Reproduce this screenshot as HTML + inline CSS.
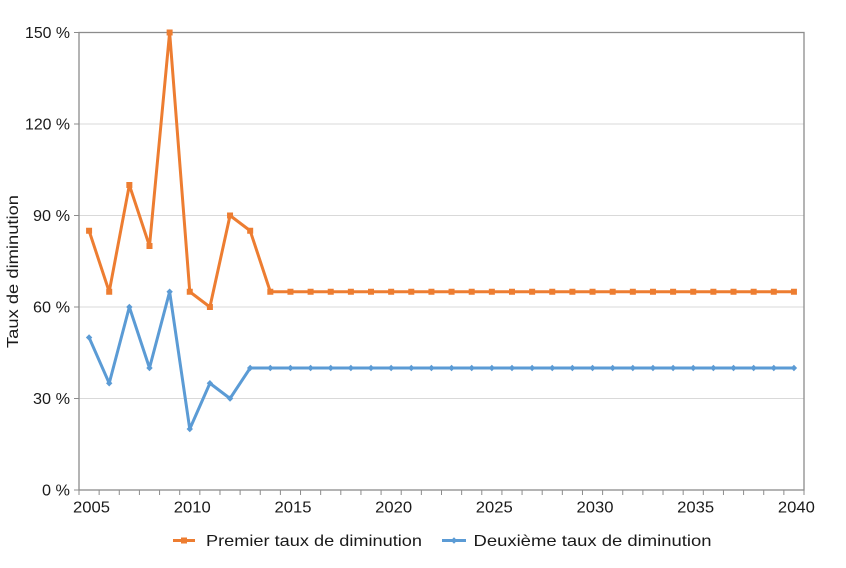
<!DOCTYPE html>
<html><head><meta charset="utf-8"><style>
html,body{margin:0;padding:0;background:#fff;}
svg{display:block;font-family:"Liberation Sans",Arial,sans-serif;}
</style></head><body>
<svg width="846" height="568" viewBox="0 0 846 568" xmlns="http://www.w3.org/2000/svg">
<defs>
<marker id="sq" markerUnits="userSpaceOnUse" markerWidth="8" markerHeight="8" refX="4" refY="4"><rect x="1" y="1" width="6" height="6" fill="#ED7D31"/></marker>
<marker id="dm" markerUnits="userSpaceOnUse" markerWidth="8" markerHeight="8" refX="4" refY="4"><path d="M4 0.8 L7.2 4 L4 7.2 L0.8 4 Z" fill="#5B9BD5"/></marker>
</defs>
<!-- gridlines -->
<g stroke="#D9D9D9" stroke-width="1">
<line x1="79" y1="398.5" x2="804" y2="398.5"/>
<line x1="79" y1="307" x2="804" y2="307"/>
<line x1="79" y1="215.5" x2="804" y2="215.5"/>
<line x1="79" y1="124" x2="804" y2="124"/>
</g>
<!-- plot border -->
<rect x="79" y="32.5" width="725" height="457.5" fill="none" stroke="#8C8C8C" stroke-width="1.3"/>
<!-- y ticks -->
<g stroke="#8C8C8C" stroke-width="1">
<line x1="74" y1="490" x2="79" y2="490"/>
<line x1="74" y1="398.5" x2="79" y2="398.5"/>
<line x1="74" y1="307" x2="79" y2="307"/>
<line x1="74" y1="215.5" x2="79" y2="215.5"/>
<line x1="74" y1="124" x2="79" y2="124"/>
<line x1="74" y1="32.5" x2="79" y2="32.5"/>
</g>
<!-- x ticks -->
<line x1="78.5" y1="492.5" x2="805" y2="492.5" stroke="#8C8C8C" stroke-width="5" stroke-dasharray="1 19.139"/>
<!-- y labels -->
<g font-size="16" fill="#1a1a1a" text-anchor="end">
<text x="70" y="495.5" textLength="28" lengthAdjust="spacingAndGlyphs">0 %</text>
<text x="70" y="404" textLength="37" lengthAdjust="spacingAndGlyphs">30 %</text>
<text x="70" y="312.5" textLength="37" lengthAdjust="spacingAndGlyphs">60 %</text>
<text x="70" y="221" textLength="37" lengthAdjust="spacingAndGlyphs">90 %</text>
<text x="70" y="129.5" textLength="45" lengthAdjust="spacingAndGlyphs">120 %</text>
<text x="70" y="38" textLength="45" lengthAdjust="spacingAndGlyphs">150 %</text>
</g>
<!-- x labels -->
<g font-size="15.5" fill="#1a1a1a" text-anchor="middle">
<text x="91.5" y="512.3" textLength="37" lengthAdjust="spacingAndGlyphs">2005</text>
<text x="192.3" y="512.3" textLength="37" lengthAdjust="spacingAndGlyphs">2010</text>
<text x="293" y="512.3" textLength="37" lengthAdjust="spacingAndGlyphs">2015</text>
<text x="393.6" y="512.3" textLength="37" lengthAdjust="spacingAndGlyphs">2020</text>
<text x="494.3" y="512.3" textLength="37" lengthAdjust="spacingAndGlyphs">2025</text>
<text x="595" y="512.3" textLength="37" lengthAdjust="spacingAndGlyphs">2030</text>
<text x="695.7" y="512.3" textLength="37" lengthAdjust="spacingAndGlyphs">2035</text>
<text x="796.4" y="512.3" textLength="37" lengthAdjust="spacingAndGlyphs">2040</text>
</g>
<!-- axis title -->
<text transform="translate(18,271.5) rotate(-90)" font-size="15.5" fill="#1a1a1a" text-anchor="middle" textLength="153" lengthAdjust="spacingAndGlyphs">Taux de diminution</text>
<!-- series 1 -->
<polyline fill="none" stroke="#ED7D31" stroke-width="3" stroke-linejoin="round" marker-start="url(#sq)" marker-mid="url(#sq)" marker-end="url(#sq)"
points="89.07,230.75 109.21,291.75 129.35,185 149.49,246 169.63,32.5 189.76,291.75 209.90,307 230.04,215.5 250.18,230.75 270.32,291.75 290.46,291.75 310.60,291.75 330.74,291.75 350.88,291.75 371.01,291.75 391.15,291.75 411.29,291.75 431.43,291.75 451.57,291.75 471.71,291.75 491.85,291.75 511.99,291.75 532.13,291.75 552.26,291.75 572.40,291.75 592.54,291.75 612.68,291.75 632.82,291.75 652.96,291.75 673.10,291.75 693.24,291.75 713.38,291.75 733.51,291.75 753.65,291.75 773.79,291.75 793.93,291.75"/>
<!-- series 2 -->
<polyline fill="none" stroke="#5B9BD5" stroke-width="3" stroke-linejoin="round" marker-start="url(#dm)" marker-mid="url(#dm)" marker-end="url(#dm)"
points="89.07,337.5 109.21,383.25 129.35,307 149.49,368 169.63,291.75 189.76,429 209.90,383.25 230.04,398.5 250.18,368 270.32,368 290.46,368 310.60,368 330.74,368 350.88,368 371.01,368 391.15,368 411.29,368 431.43,368 451.57,368 471.71,368 491.85,368 511.99,368 532.13,368 552.26,368 572.40,368 592.54,368 612.68,368 632.82,368 652.96,368 673.10,368 693.24,368 713.38,368 733.51,368 753.65,368 773.79,368 793.93,368"/>
<!-- legend -->
<line x1="173" y1="540.5" x2="195" y2="540.5" stroke="#ED7D31" stroke-width="3"/>
<rect x="181" y="537.5" width="6" height="6" fill="#ED7D31"/>
<text x="206" y="545.8" font-size="16" fill="#1a1a1a" textLength="216" lengthAdjust="spacingAndGlyphs">Premier taux de diminution</text>
<line x1="442" y1="540.5" x2="466" y2="540.5" stroke="#5B9BD5" stroke-width="3"/>
<path d="M454 537.3 L457.2 540.5 L454 543.7 L450.8 540.5 Z" fill="#5B9BD5"/>
<text x="473.5" y="545.8" font-size="16" fill="#1a1a1a" textLength="238" lengthAdjust="spacingAndGlyphs">Deuxième taux de diminution</text>
</svg>
</body></html>
